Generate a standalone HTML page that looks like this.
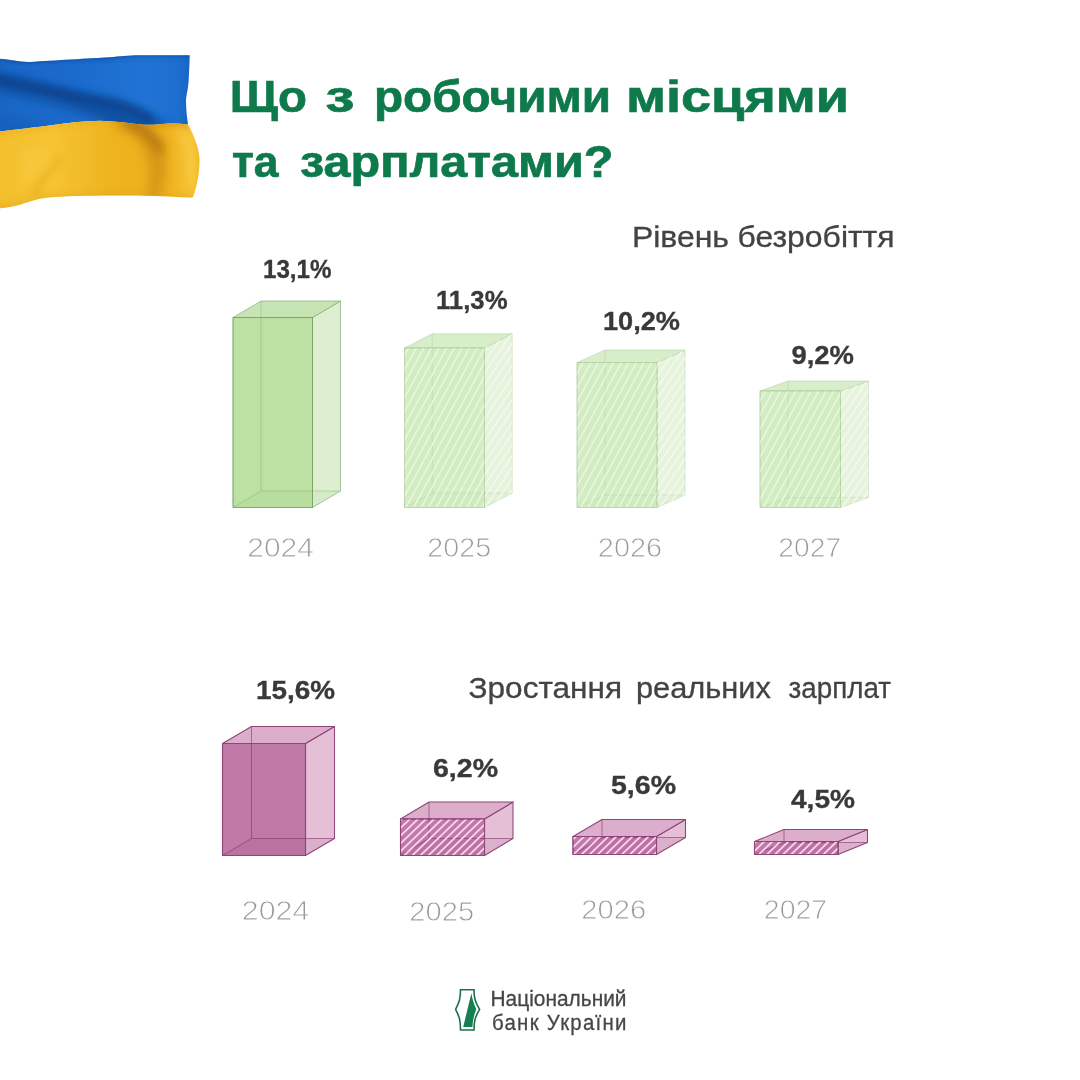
<!DOCTYPE html>
<html lang="uk">
<head>
<meta charset="utf-8">
<title>Що з робочими місцями та зарплатами?</title>
<style>
html,body{margin:0;padding:0;background:#fff;}
body{width:1080px;height:1080px;overflow:hidden;font-family:"Liberation Sans",sans-serif;}
svg{display:block;}
text{font-family:"Liberation Sans",sans-serif;}
.title{font-weight:700;font-size:44px;fill:#0e7a4b;stroke:#0e7a4b;stroke-width:0.7px;}
.sub{font-size:28.8px;fill:#434345;stroke:#434345;stroke-width:0.3px;}
.val{font-weight:700;font-size:26.5px;fill:#39393b;stroke:#39393b;stroke-width:0.35px;}
.yr{font-size:27.4px;fill:#999999;stroke:#fff;stroke-width:0.8px;paint-order:fill stroke;}
.nbu{font-size:22.3px;fill:#464648;stroke:#464648;stroke-width:0.3px;}
</style>
</head>
<body>
<svg width="1080" height="1080" viewBox="0 0 1080 1080">
<defs>
<linearGradient id="fb" x1="0" y1="0" x2="1" y2="0">
<stop offset="0" stop-color="#1966c6"/><stop offset="0.4" stop-color="#1b6bcc"/><stop offset="0.75" stop-color="#2073d4"/><stop offset="1" stop-color="#1c6ccd"/>
</linearGradient>
<linearGradient id="fy" x1="0" y1="0" x2="1" y2="0">
<stop offset="0" stop-color="#f4bf2c"/><stop offset="0.25" stop-color="#f6c433"/><stop offset="0.55" stop-color="#eeb31f"/><stop offset="0.8" stop-color="#ecb01c"/><stop offset="0.93" stop-color="#f6c233"/><stop offset="1" stop-color="#f2ba26"/>
</linearGradient>
<filter id="bl6" x="-30%" y="-30%" width="160%" height="160%"><feGaussianBlur stdDeviation="5"/></filter>
<filter id="bl3" x="-30%" y="-30%" width="160%" height="160%"><feGaussianBlur stdDeviation="3"/></filter>
<filter id="bl1" x="-30%" y="-30%" width="160%" height="160%"><feGaussianBlur stdDeviation="1.2"/></filter>
<clipPath id="cb"><path d="M0,58.8 C10,59.5 20,62.5 30,62 C55,60.5 90,58.5 110,57.3 C120,56.5 128,55.4 140,55.3 L189.6,55.3 C189.5,65 189,75 188.6,80.7 C188,90 186,96 186,101 C186,110 187,118 188,124.5 C180,123.3 172,123.2 165,123.8 C152,125.2 142,125 132,123.5 C122,122 112,121.3 100,120.8 C85,121 70,122.5 55,124.8 C35,127.5 15,129.5 0,131.6 Z"/></clipPath>
<clipPath id="cy"><path d="M0,131.6 C15,129.5 35,127.5 55,124.8 C70,122.5 85,121 100,120.8 C112,121.3 122,122 132,123.5 C142,125 152,125.2 165,123.8 C172,123.2 180,123.3 188,124.5 C191,130 193.5,135 195.2,140.5 C197.5,146 198.8,151 199.3,155.8 C199.8,161 199.6,166 199,171 C198.5,176 197.5,181 196.2,186.4 C195,191 194,194 193.4,196 C193,197.4 192.4,197.7 191,197.6 C165,196 135,195.3 110,195.5 C90,195.6 70,196 55,197 C49,197.4 44,198 40,198.8 C33,200.4 27,202.6 20,204.7 C13,206.6 6,207.7 0,208.3 Z"/></clipPath>

</defs>
<rect width="1080" height="1080" fill="#ffffff"/>

<g>
<g clip-path="url(#cb)">
<rect x="0" y="50" width="195" height="85" fill="url(#fb)"/>
<path d="M-10,72 C30,80 70,90 110,98 C130,103 150,112 172,128 L120,132 C90,112 40,98 -10,90 Z" fill="#0c4896" opacity="0.75" filter="url(#bl6)"/>
<path d="M-10,77 C30,85 70,96 112,104 C128,107 140,112 152,120" stroke="#083a80" stroke-width="7" opacity="0.7" fill="none" filter="url(#bl3)"/>
<path d="M-10,60 C20,62 60,62 110,60 L110,52 L-10,52 Z" fill="#0f50a8" opacity="0.35" filter="url(#bl3)"/>
<path d="M-10,115 C20,118 40,124 60,134 L-10,140 Z" fill="#0f50a8" opacity="0.25" filter="url(#bl6)"/>
<path d="M100,60 C130,58 160,57 195,57 L195,52 L100,54 Z" fill="#0f50a8" opacity="0.3" filter="url(#bl3)"/>
<path d="M0,58.8 C10,59.5 20,62.5 30,62 C55,60.5 90,58.5 110,57.3 C120,56.5 128,55.4 140,55.3 L189.6,55.3" stroke="#0c3f86" stroke-width="1.6" opacity="0.6" fill="none" filter="url(#bl1)"/>
<path d="M184,50 L196,50 L193,130 L182,130 Z" fill="#0f50a8" opacity="0.22" filter="url(#bl3)"/>
</g>
<g clip-path="url(#cy)">
<rect x="0" y="115" width="205" height="100" fill="url(#fy)"/>
<path d="M118,116 C140,120 158,136 166,160 C168,172 164,186 158,200 L146,200 C150,180 150,165 144,150 C138,138 128,130 112,126 Z" fill="#c88612" opacity="0.55" filter="url(#bl6)"/>
<path d="M126,122 C142,126 154,136 162,152" stroke="#9a5a08" stroke-width="9" opacity="0.6" fill="none" filter="url(#bl6)"/>
<path d="M100,118 C120,120 140,126 160,126 C170,125 180,125 190,127 L190,120 L100,114 Z" fill="#b87510" opacity="0.45" filter="url(#bl3)"/>
<path d="M-10,137 C30,130 60,126 100,124 L100,116 L-10,126 Z" fill="#d8960f" opacity="0.25" filter="url(#bl3)"/>
<path d="M60,158 C50,170 40,182 34,196" stroke="#dca41c" stroke-width="6" opacity="0.45" fill="none" filter="url(#bl3)"/>
<path d="M20,150 C30,142 48,145 52,160 C48,175 30,182 18,186 Z" fill="#fbd04e" opacity="0.35" filter="url(#bl6)"/>
<path d="M-5,206 C10,203 25,199 40,195 C70,193 130,192 200,195 L200,205 L-5,216 Z" fill="#e0a018" opacity="0.35" filter="url(#bl3)"/>
<path d="M178,132 C190,140 194,160 190,185" stroke="#fdd35a" stroke-width="8" opacity="0.45" fill="none" filter="url(#bl6)"/>
</g>
</g>

<g>
<polygon points="312.5,317.5 340.5,301.0 340.5,491.0 312.5,507.5" fill="#ddefd0" stroke="rgba(110,155,90,0.55)" stroke-width="1" stroke-linejoin="round"/>
<polygon points="233,317.5 312.5,317.5 340.5,301.0 261,301.0" fill="#c7e5b4" stroke="rgba(110,155,90,0.55)" stroke-width="1" stroke-linejoin="round"/>
<rect x="233" y="317.5" width="79.5" height="190.0" fill="#bde0a3" stroke="rgba(110,155,90,0.55)" stroke-width="1" stroke-linejoin="round"/>
<polygon points="233,507.5 312.5,507.5 340.5,491.0 261,491.0" fill="rgba(150,200,120,0.10)"/>
<path d="M261,301.0 V491.0 H340.5 M233,507.5 L261,491.0" fill="none" stroke="rgba(110,160,90,0.35)" stroke-width="1"/>
<path d="M312.5,317.5 V507.5 M233,317.5 H312.5 M233,317.5 V507.5 H312.5" fill="none" stroke="rgba(110,155,90,0.55)" stroke-width="1" stroke-linejoin="round"/>
</g>
<g>
<polygon points="484.5,348 512.2,333.7 512.2,493.2 484.5,507.5" fill="#e6f3dd" stroke="rgba(150,190,130,0.32)" stroke-width="1" stroke-linejoin="round"/>
<polygon points="404.5,348 484.5,348 512.2,333.7 432.2,333.7" fill="#d8edc9" stroke="rgba(150,190,130,0.32)" stroke-width="1" stroke-linejoin="round"/>
<rect x="404.5" y="348" width="80.0" height="159.5" fill="#d3ecc4" stroke="rgba(150,190,130,0.32)" stroke-width="1" stroke-linejoin="round"/>
<polygon points="404.5,507.5 484.5,507.5 512.2,493.2 432.2,493.2" fill="rgba(150,200,120,0.05)"/>
<path d="M432.2,333.7 V493.2 H512.2 M404.5,507.5 L432.2,493.2" fill="none" stroke="rgba(140,185,120,0.22)" stroke-width="1"/>
<clipPath id="hc1"><rect x="404.5" y="348" width="80.0" height="159.5"/></clipPath><path clip-path="url(#hc1)" d="M306.12,509.50 L394.50,346.00 M313.72,509.50 L402.10,346.00 M321.32,509.50 L409.70,346.00 M328.92,509.50 L417.30,346.00 M336.52,509.50 L424.90,346.00 M344.12,509.50 L432.50,346.00 M351.72,509.50 L440.10,346.00 M359.32,509.50 L447.70,346.00 M366.92,509.50 L455.30,346.00 M374.52,509.50 L462.90,346.00 M382.12,509.50 L470.50,346.00 M389.72,509.50 L478.10,346.00 M397.32,509.50 L485.70,346.00 M404.92,509.50 L493.30,346.00 M412.52,509.50 L500.90,346.00 M420.12,509.50 L508.50,346.00 M427.72,509.50 L516.10,346.00 M435.32,509.50 L523.70,346.00 M442.92,509.50 L531.30,346.00 M450.52,509.50 L538.90,346.00 M458.12,509.50 L546.50,346.00 M465.72,509.50 L554.10,346.00 M473.32,509.50 L561.70,346.00 M480.92,509.50 L569.30,346.00 M488.52,509.50 L576.90,346.00 M496.12,509.50 L584.50,346.00" stroke="#e6f9da" stroke-width="1.5" fill="none"/>
<clipPath id="hc2"><polygon points="484.5,348 512.2,333.7 512.2,493.2 484.5,507.5"/></clipPath><path clip-path="url(#hc2)" d="M354.45,509.50 L474.58,331.70 M362.05,509.50 L482.18,331.70 M369.65,509.50 L489.78,331.70 M377.25,509.50 L497.38,331.70 M384.85,509.50 L504.98,331.70 M392.45,509.50 L512.58,331.70 M400.05,509.50 L520.18,331.70 M407.65,509.50 L527.78,331.70 M415.25,509.50 L535.38,331.70 M422.85,509.50 L542.98,331.70 M430.45,509.50 L550.58,331.70 M438.05,509.50 L558.18,331.70 M445.65,509.50 L565.78,331.70 M453.25,509.50 L573.38,331.70 M460.85,509.50 L580.98,331.70 M468.45,509.50 L588.58,331.70 M476.05,509.50 L596.18,331.70 M483.65,509.50 L603.78,331.70 M491.25,509.50 L611.38,331.70 M498.85,509.50 L618.98,331.70 M506.45,509.50 L626.58,331.70 M514.05,509.50 L634.18,331.70 M521.65,509.50 L641.78,331.70" stroke="#f2faec" stroke-width="1.5" fill="none"/>
<path d="M484.5,348 V507.5 M404.5,348 H484.5 M404.5,348 V507.5 H484.5" fill="none" stroke="rgba(150,190,130,0.32)" stroke-width="1" stroke-linejoin="round"/>
</g>
<g>
<polygon points="657,362.5 685,350.0 685,495.0 657,507.5" fill="#e6f3dd" stroke="rgba(150,190,130,0.32)" stroke-width="1" stroke-linejoin="round"/>
<polygon points="577,362.5 657,362.5 685,350.0 605,350.0" fill="#d8edc9" stroke="rgba(150,190,130,0.32)" stroke-width="1" stroke-linejoin="round"/>
<rect x="577" y="362.5" width="80" height="145.0" fill="#d3ecc4" stroke="rgba(150,190,130,0.32)" stroke-width="1" stroke-linejoin="round"/>
<polygon points="577,507.5 657,507.5 685,495.0 605,495.0" fill="rgba(150,200,120,0.05)"/>
<path d="M605,350.0 V495.0 H685 M577,507.5 L605,495.0" fill="none" stroke="rgba(140,185,120,0.22)" stroke-width="1"/>
<clipPath id="hc3"><rect x="577" y="362.5" width="80" height="145.0"/></clipPath><path clip-path="url(#hc3)" d="M488.52,509.50 L569.06,360.50 M496.12,509.50 L576.66,360.50 M503.72,509.50 L584.26,360.50 M511.32,509.50 L591.86,360.50 M518.92,509.50 L599.46,360.50 M526.52,509.50 L607.06,360.50 M534.12,509.50 L614.66,360.50 M541.72,509.50 L622.26,360.50 M549.32,509.50 L629.86,360.50 M556.92,509.50 L637.46,360.50 M564.52,509.50 L645.06,360.50 M572.12,509.50 L652.66,360.50 M579.72,509.50 L660.26,360.50 M587.32,509.50 L667.86,360.50 M594.92,509.50 L675.46,360.50 M602.52,509.50 L683.06,360.50 M610.12,509.50 L690.66,360.50 M617.72,509.50 L698.26,360.50 M625.32,509.50 L705.86,360.50 M632.92,509.50 L713.46,360.50 M640.52,509.50 L721.06,360.50 M648.12,509.50 L728.66,360.50 M655.72,509.50 L736.26,360.50 M663.32,509.50 L743.86,360.50 M670.92,509.50 L751.46,360.50" stroke="#e6f9da" stroke-width="1.5" fill="none"/>
<clipPath id="hc4"><polygon points="657,362.5 685,350.0 685,495.0 657,507.5"/></clipPath><path clip-path="url(#hc4)" d="M536.85,509.50 L645.97,348.00 M544.45,509.50 L653.57,348.00 M552.05,509.50 L661.17,348.00 M559.65,509.50 L668.77,348.00 M567.25,509.50 L676.37,348.00 M574.85,509.50 L683.97,348.00 M582.45,509.50 L691.57,348.00 M590.05,509.50 L699.17,348.00 M597.65,509.50 L706.77,348.00 M605.25,509.50 L714.37,348.00 M612.85,509.50 L721.97,348.00 M620.45,509.50 L729.57,348.00 M628.05,509.50 L737.17,348.00 M635.65,509.50 L744.77,348.00 M643.25,509.50 L752.37,348.00 M650.85,509.50 L759.97,348.00 M658.45,509.50 L767.57,348.00 M666.05,509.50 L775.17,348.00 M673.65,509.50 L782.77,348.00 M681.25,509.50 L790.37,348.00 M688.85,509.50 L797.97,348.00 M696.45,509.50 L805.57,348.00" stroke="#f2faec" stroke-width="1.5" fill="none"/>
<path d="M657,362.5 V507.5 M577,362.5 H657 M577,362.5 V507.5 H657" fill="none" stroke="rgba(150,190,130,0.32)" stroke-width="1" stroke-linejoin="round"/>
</g>
<g>
<polygon points="840.5,391 868.5,381 868.5,497.5 840.5,507.5" fill="#e6f3dd" stroke="rgba(150,190,130,0.32)" stroke-width="1" stroke-linejoin="round"/>
<polygon points="760,391 840.5,391 868.5,381 788,381" fill="#d8edc9" stroke="rgba(150,190,130,0.32)" stroke-width="1" stroke-linejoin="round"/>
<rect x="760" y="391" width="80.5" height="116.5" fill="#d3ecc4" stroke="rgba(150,190,130,0.32)" stroke-width="1" stroke-linejoin="round"/>
<polygon points="760,507.5 840.5,507.5 868.5,497.5 788,497.5" fill="rgba(150,200,120,0.05)"/>
<path d="M788,381 V497.5 H868.5 M760,507.5 L788,497.5" fill="none" stroke="rgba(140,185,120,0.22)" stroke-width="1"/>
<clipPath id="hc5"><rect x="760" y="391" width="80.5" height="116.5"/></clipPath><path clip-path="url(#hc5)" d="M686.12,509.50 L751.25,389.00 M693.72,509.50 L758.85,389.00 M701.32,509.50 L766.45,389.00 M708.92,509.50 L774.05,389.00 M716.52,509.50 L781.65,389.00 M724.12,509.50 L789.25,389.00 M731.72,509.50 L796.85,389.00 M739.32,509.50 L804.45,389.00 M746.92,509.50 L812.05,389.00 M754.52,509.50 L819.65,389.00 M762.12,509.50 L827.25,389.00 M769.72,509.50 L834.85,389.00 M777.32,509.50 L842.45,389.00 M784.92,509.50 L850.05,389.00 M792.52,509.50 L857.65,389.00 M800.12,509.50 L865.25,389.00 M807.72,509.50 L872.85,389.00 M815.32,509.50 L880.45,389.00 M822.92,509.50 L888.05,389.00 M830.52,509.50 L895.65,389.00 M838.12,509.50 L903.25,389.00 M845.72,509.50 L910.85,389.00 M853.32,509.50 L918.45,389.00" stroke="#e6f9da" stroke-width="1.5" fill="none"/>
<clipPath id="hc6"><polygon points="840.5,391 868.5,381 868.5,497.5 840.5,507.5"/></clipPath><path clip-path="url(#hc6)" d="M742.05,509.50 L830.22,379.00 M749.65,509.50 L837.82,379.00 M757.25,509.50 L845.42,379.00 M764.85,509.50 L853.02,379.00 M772.45,509.50 L860.62,379.00 M780.05,509.50 L868.22,379.00 M787.65,509.50 L875.82,379.00 M795.25,509.50 L883.42,379.00 M802.85,509.50 L891.02,379.00 M810.45,509.50 L898.62,379.00 M818.05,509.50 L906.22,379.00 M825.65,509.50 L913.82,379.00 M833.25,509.50 L921.42,379.00 M840.85,509.50 L929.02,379.00 M848.45,509.50 L936.62,379.00 M856.05,509.50 L944.22,379.00 M863.65,509.50 L951.82,379.00 M871.25,509.50 L959.42,379.00 M878.85,509.50 L967.02,379.00" stroke="#f2faec" stroke-width="1.5" fill="none"/>
<path d="M840.5,391 V507.5 M760,391 H840.5 M760,391 V507.5 H840.5" fill="none" stroke="rgba(150,190,130,0.32)" stroke-width="1" stroke-linejoin="round"/>
</g>
<g>
<polygon points="305.5,743.5 334.5,726.5 334.5,838.5 305.5,855.5" fill="#e4bfd6" stroke="#8f4577" stroke-width="1.05" stroke-linejoin="round"/>
<polygon points="222.5,743.5 305.5,743.5 334.5,726.5 251.5,726.5" fill="#dcaecb" stroke="#8f4577" stroke-width="1.05" stroke-linejoin="round"/>
<rect x="222.5" y="743.5" width="83.0" height="112.0" fill="#bf7aa8" stroke="#8f4577" stroke-width="1.05" stroke-linejoin="round"/>
<polygon points="222.5,855.5 305.5,855.5 334.5,838.5 251.5,838.5" fill="rgba(150,50,110,0.10)"/>
<path d="M251.5,726.5 V838.5 H334.5 M222.5,855.5 L251.5,838.5" fill="none" stroke="rgba(130,55,105,0.6)" stroke-width="1.0"/>
<path d="M305.5,743.5 V855.5 M222.5,743.5 H305.5 M222.5,743.5 V855.5 H305.5" fill="none" stroke="#8f4577" stroke-width="1.05" stroke-linejoin="round"/>
</g>
<g>
<polygon points="484.5,819 513.0,802 513.0,838.5 484.5,855.5" fill="#e4bfd6" stroke="#8f4577" stroke-width="1.05" stroke-linejoin="round"/>
<polygon points="400.5,819 484.5,819 513.0,802 429.0,802" fill="#dcaecb" stroke="#8f4577" stroke-width="1.05" stroke-linejoin="round"/>
<rect x="400.5" y="819" width="84.0" height="36.5" fill="#bf7aa8" stroke="#8f4577" stroke-width="1.05" stroke-linejoin="round"/>
<polygon points="400.5,855.5 484.5,855.5 513.0,838.5 429.0,838.5" fill="rgba(150,50,110,0.10)"/>
<path d="M429.0,802 V838.5 H513.0 M400.5,855.5 L429.0,838.5" fill="none" stroke="rgba(130,55,105,0.6)" stroke-width="1.0"/>
<clipPath id="hc7"><rect x="400.5" y="819" width="84.0" height="36.5"/></clipPath><path clip-path="url(#hc7)" d="M345.70,857.50 L387.88,817.00 M353.76,857.50 L395.94,817.00 M361.82,857.50 L404.00,817.00 M369.88,857.50 L412.06,817.00 M377.94,857.50 L420.12,817.00 M386.00,857.50 L428.18,817.00 M394.06,857.50 L436.24,817.00 M402.12,857.50 L444.30,817.00 M410.18,857.50 L452.36,817.00 M418.24,857.50 L460.42,817.00 M426.30,857.50 L468.48,817.00 M434.36,857.50 L476.54,817.00 M442.42,857.50 L484.60,817.00 M450.48,857.50 L492.66,817.00 M458.54,857.50 L500.72,817.00 M466.60,857.50 L508.78,817.00 M474.66,857.50 L516.84,817.00 M482.72,857.50 L524.90,817.00 M490.78,857.50 L532.96,817.00" stroke="#fbd2f0" stroke-width="1.8" fill="none"/>
<path d="M484.5,819 V855.5 M400.5,819 H484.5 M400.5,819 V855.5 H484.5" fill="none" stroke="#8f4577" stroke-width="1.05" stroke-linejoin="round"/>
</g>
<g>
<polygon points="656.5,836.5 685.5,819.5 685.5,837.5 656.5,854.5" fill="#e4bfd6" stroke="#8f4577" stroke-width="1.05" stroke-linejoin="round"/>
<polygon points="573,836.5 656.5,836.5 685.5,819.5 602,819.5" fill="#dcaecb" stroke="#8f4577" stroke-width="1.05" stroke-linejoin="round"/>
<rect x="573" y="836.5" width="83.5" height="18.0" fill="#bf7aa8" stroke="#8f4577" stroke-width="1.05" stroke-linejoin="round"/>
<polygon points="573,854.5 656.5,854.5 685.5,837.5 602,837.5" fill="rgba(150,50,110,0.10)"/>
<path d="M602,819.5 V837.5 H685.5 M573,854.5 L602,837.5" fill="none" stroke="rgba(130,55,105,0.6)" stroke-width="1.0"/>
<clipPath id="hc8"><rect x="573" y="836.5" width="83.5" height="18.0"/></clipPath><path clip-path="url(#hc8)" d="M539.14,856.50 L562.05,834.50 M547.20,856.50 L570.11,834.50 M555.26,856.50 L578.17,834.50 M563.32,856.50 L586.23,834.50 M571.38,856.50 L594.29,834.50 M579.44,856.50 L602.35,834.50 M587.50,856.50 L610.41,834.50 M595.56,856.50 L618.47,834.50 M603.62,856.50 L626.53,834.50 M611.68,856.50 L634.59,834.50 M619.74,856.50 L642.65,834.50 M627.80,856.50 L650.71,834.50 M635.86,856.50 L658.77,834.50 M643.92,856.50 L666.83,834.50 M651.98,856.50 L674.89,834.50 M660.04,856.50 L682.95,834.50 M668.10,856.50 L691.01,834.50" stroke="#fbd2f0" stroke-width="1.8" fill="none"/>
<path d="M656.5,836.5 V854.5 M573,836.5 H656.5 M573,836.5 V854.5 H656.5" fill="none" stroke="#8f4577" stroke-width="1.05" stroke-linejoin="round"/>
</g>
<g>
<polygon points="838,841.5 867.5,829.5 867.5,842.5 838,854.5" fill="#e4bfd6" stroke="#8f4577" stroke-width="1.05" stroke-linejoin="round"/>
<polygon points="754.5,841.5 838,841.5 867.5,829.5 784.0,829.5" fill="#dcaecb" stroke="#8f4577" stroke-width="1.05" stroke-linejoin="round"/>
<rect x="754.5" y="841.5" width="83.5" height="13.0" fill="#bf7aa8" stroke="#8f4577" stroke-width="1.05" stroke-linejoin="round"/>
<polygon points="754.5,854.5 838,854.5 867.5,842.5 784.0,842.5" fill="rgba(150,50,110,0.10)"/>
<path d="M784.0,829.5 V842.5 H867.5 M754.5,854.5 L784.0,842.5" fill="none" stroke="rgba(130,55,105,0.6)" stroke-width="1.0"/>
<clipPath id="hc9"><rect x="754.5" y="841.5" width="83.5" height="13.0"/></clipPath><path clip-path="url(#hc9)" d="M724.52,856.50 L742.23,839.50 M732.58,856.50 L750.29,839.50 M740.64,856.50 L758.35,839.50 M748.70,856.50 L766.40,839.50 M756.76,856.50 L774.47,839.50 M764.82,856.50 L782.53,839.50 M772.88,856.50 L790.59,839.50 M780.94,856.50 L798.64,839.50 M789.00,856.50 L806.70,839.50 M797.06,856.50 L814.76,839.50 M805.12,856.50 L822.83,839.50 M813.18,856.50 L830.88,839.50 M821.24,856.50 L838.94,839.50 M829.30,856.50 L847.00,839.50 M837.36,856.50 L855.07,839.50 M845.42,856.50 L863.12,839.50" stroke="#fbd2f0" stroke-width="1.8" fill="none"/>
<path d="M838,841.5 V854.5 M754.5,841.5 H838 M754.5,841.5 V854.5 H838" fill="none" stroke="#8f4577" stroke-width="1.05" stroke-linejoin="round"/>
</g>
<text x="229.86" y="112" class="title" text-anchor="start" textLength="77.20" lengthAdjust="spacingAndGlyphs">Що</text>
<text x="325.36" y="112" class="title" text-anchor="start" textLength="29.27" lengthAdjust="spacingAndGlyphs">з</text>
<text x="373.92" y="112" class="title" text-anchor="start" textLength="237.16" lengthAdjust="spacingAndGlyphs">робочими</text>
<text x="625.91" y="112" class="title" text-anchor="start" textLength="223.17" lengthAdjust="spacingAndGlyphs">місцями</text>
<text x="232.0" y="176.5" class="title" text-anchor="start" textLength="46.51" lengthAdjust="spacingAndGlyphs">та</text>
<text x="299.99" y="176.5" class="title" text-anchor="start" textLength="313.54" lengthAdjust="spacingAndGlyphs">зарплатами?</text>
<text x="631.93" y="247" class="sub" text-anchor="start" textLength="97.10" lengthAdjust="spacingAndGlyphs">Рівень</text>
<text x="737.46" y="247" class="sub" text-anchor="start" textLength="157.09" lengthAdjust="spacingAndGlyphs">безробіття</text>
<text x="468.48" y="697.8" class="sub" text-anchor="start" textLength="153.55" lengthAdjust="spacingAndGlyphs">Зростання</text>
<text x="635.98" y="697.8" class="sub" text-anchor="start" textLength="135.02" lengthAdjust="spacingAndGlyphs">реальних</text>
<text x="788.5" y="697.8" class="sub" text-anchor="start" textLength="102.50" lengthAdjust="spacingAndGlyphs">зарплат</text>
<text x="262.97" y="277.5" class="val" text-anchor="start" textLength="68.55" lengthAdjust="spacingAndGlyphs">13,1%</text>
<text x="435.97" y="308.6" class="val" text-anchor="start" textLength="71.55" lengthAdjust="spacingAndGlyphs">11,3%</text>
<text x="602.95" y="330.3" class="val" text-anchor="start" textLength="77.07" lengthAdjust="spacingAndGlyphs">10,2%</text>
<text x="791.49" y="363.6" class="val" text-anchor="start" textLength="62.53" lengthAdjust="spacingAndGlyphs">9,2%</text>
<text x="255.96" y="699.4" class="val" text-anchor="start" textLength="79.06" lengthAdjust="spacingAndGlyphs">15,6%</text>
<text x="432.99" y="776.7" class="val" text-anchor="start" textLength="65.02" lengthAdjust="spacingAndGlyphs">6,2%</text>
<text x="610.99" y="793.6" class="val" text-anchor="start" textLength="65.01" lengthAdjust="spacingAndGlyphs">5,6%</text>
<text x="791.0" y="808.3" class="val" text-anchor="start" textLength="64.00" lengthAdjust="spacingAndGlyphs">4,5%</text>
<text x="247.33" y="556.7" class="yr" text-anchor="start" textLength="66.56" lengthAdjust="spacingAndGlyphs">2024</text>
<text x="427.32" y="556.7" class="yr" text-anchor="start" textLength="63.83" lengthAdjust="spacingAndGlyphs">2025</text>
<text x="597.86" y="556.7" class="yr" text-anchor="start" textLength="64.29" lengthAdjust="spacingAndGlyphs">2026</text>
<text x="778.36" y="556.7" class="yr" text-anchor="start" textLength="62.79" lengthAdjust="spacingAndGlyphs">2027</text>
<text x="241.82" y="919.7" class="yr" text-anchor="start" textLength="67.56" lengthAdjust="spacingAndGlyphs">2024</text>
<text x="409.39" y="921" class="yr" text-anchor="start" textLength="64.70" lengthAdjust="spacingAndGlyphs">2025</text>
<text x="581.36" y="918.5" class="yr" text-anchor="start" textLength="64.77" lengthAdjust="spacingAndGlyphs">2026</text>
<text x="763.84" y="918.5" class="yr" text-anchor="start" textLength="63.30" lengthAdjust="spacingAndGlyphs">2027</text>
<text x="490.48" y="1005.7" class="nbu" text-anchor="start" textLength="136.05" lengthAdjust="spacingAndGlyphs">Національний</text>
<text transform="translate(491.99 1030) scale(0.915 1)" x="0" y="0" class="nbu nbu2" textLength="147.02" lengthAdjust="spacing">банк України</text>
<g>
<path d="M460.5,989.7 L474,989.7 C474,998 475,1001.5 479.6,1009.3 C475,1017 474,1021 474,1030 L460.5,1030 C460.5,1021 459.6,1017 455.6,1009.3 C459.6,1001.5 460.5,998 460.5,989.7 Z" fill="#ffffff" stroke="#1d7049" stroke-width="1.6" stroke-linejoin="miter"/>
<path d="M471.4,993.3 C472.2,999 474,1004.5 476.3,1009.3 C474,1014.5 472.7,1021 472.4,1026.9 L463.2,1026.9 Z" fill="#14804f"/>
</g>

</svg>
</body>
</html>
